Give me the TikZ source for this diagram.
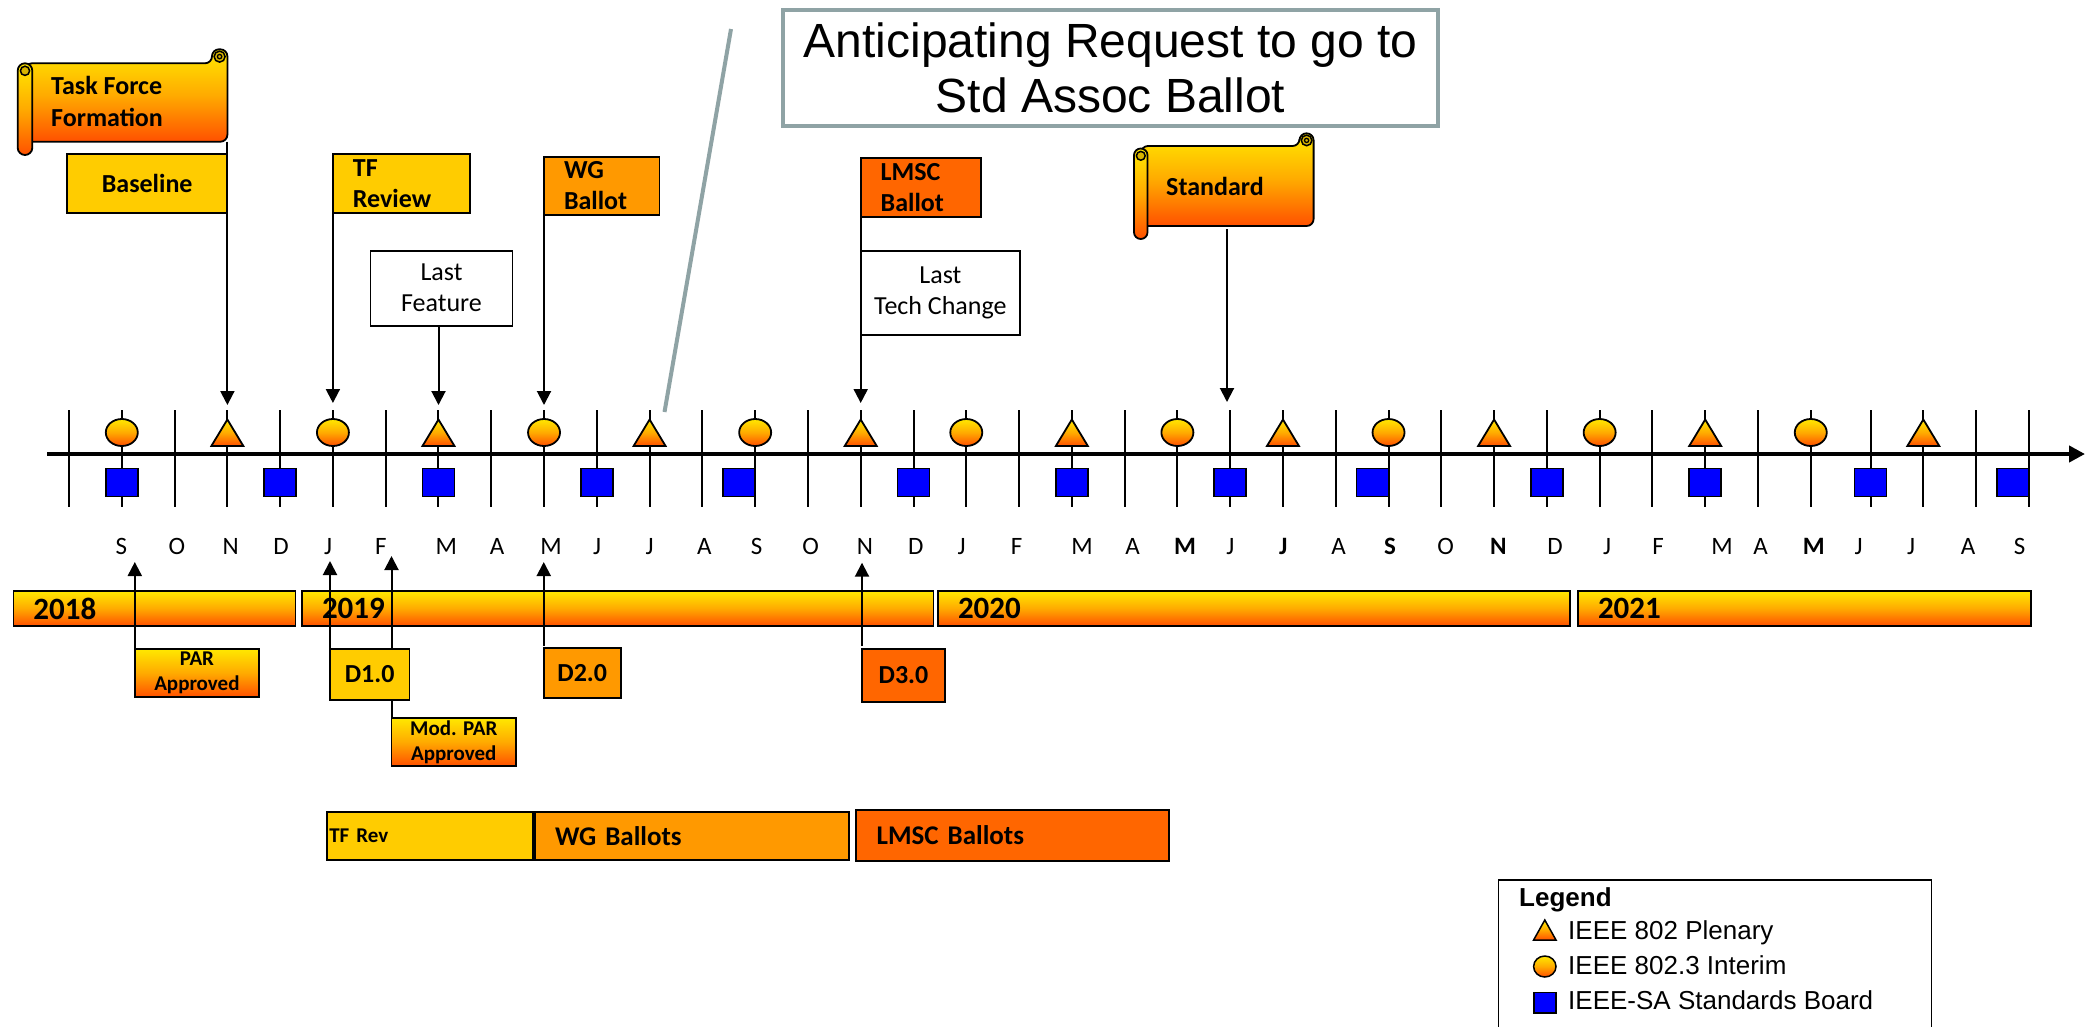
\documentclass[tikz,border=0pt]{standalone}
\usepackage{fontspec}
\setmainfont{Carlito}
\newfontfamily\arialf{Liberation Sans}
\usetikzlibrary{arrows.meta,calc}
\definecolor{cgold}{HTML}{FFCC00}
\definecolor{corng}{HTML}{FF9900}
\definecolor{cdorng}{HTML}{FF6600}
\definecolor{gtop}{HTML}{FFE800}
\definecolor{gmid}{HTML}{FFAA00}
\definecolor{gbot}{HTML}{FF5000}
\definecolor{cgrey}{HTML}{8FA3A5}
\definecolor{cblue}{HTML}{0000FF}
\definecolor{ccurl}{HTML}{D8B400}
\newcommand\flagfont{\fontsize{26}{31}\selectfont\bfseries}
\newcommand\monfont{\fontsize{25}{30}\selectfont}
\newcommand\yrfont{\fontsize{31}{36}\selectfont\bfseries}
\newcommand\smfont{\fontsize{21}{25}\selectfont\bfseries}
\newcommand\phfont{\fontsize{27}{32}\selectfont\bfseries}
\newcommand\regfont{\fontsize{26}{31}\selectfont}
\newcommand\bigfont{\arialf\fontsize{48}{55}\selectfont}
\newcommand\legfont{\arialf\fontsize{26}{31}\selectfont}
\begin{document}
\begin{tikzpicture}[x=1pt,y=-1pt,
  grad/.style={top color=gtop, bottom color=gbot, middle color=gmid},
  box/.style={draw=black, line width=1.8pt, anchor=north west, inner sep=0pt, outer sep=0pt},
  flag/.style={box, inner xsep=20pt, align=left, font=\flagfont},
  cbox/.style={box, align=center},
  arr/.style={line width=2pt, -{Triangle[length=14pt,width=14pt]}},
  mtick/.style={line width=2pt},
  outl/.style={draw=black, line width=1.8pt},
  ]
\fill[white] (0,0) rectangle (2093,1026);
\useasboundingbox (0,0) rectangle (2093,1026);

% ---------- callout ----------
\coordinate (gA) at (731,29);
\coordinate (gB) at (664.5,412);
\draw[cgrey, line width=4pt] (gA) -- (gB);
\node[draw=cgrey, line width=4pt, fill=white, anchor=north west, minimum width=655, minimum height=116, inner sep=0pt, align=center, font=\bigfont] (callout) at (781,8) {Anticipating Request to go to\\Std Assoc Ballot};

% ---------- timeline ----------
\foreach \k in {-1,...,36}{
  \pgfmathsetmacro\xx{121.8+52.78*\k+7*(\k>32)}
  \draw[mtick] (\xx,410) -- (\xx,507);
}
\coordinate (axS) at (47,454);
\coordinate (axE) at (2085,454);
\draw[line width=4.5pt, -{Triangle[length=16pt,width=16pt]}] (axS) -- (axE);

\foreach \k in {0,4,...,32}{
  \pgfmathsetmacro\xx{121.8+52.78*\k}
  \path[grad, outl] (\xx,432.5) ellipse [x radius=16, y radius=13.5];
}
\foreach \k in {2,6,...,34}{
  \pgfmathsetmacro\xx{121.8+52.78*\k+7*(\k>32)}
  \path[grad, outl] (\xx-16,446) -- (\xx,419.5) -- (\xx+16,446) -- cycle;
}
\foreach \c in {121.8,280.14,438.48,596.82,739.16,913.5,1071.84,1230.18,1372.52,1546.86,1705.2,1870.54,2012.88}{
  \path[outl, fill=cblue] (\c-16,468.5) rectangle (\c+16,496.5);
}

\foreach \x/\m [count=\i] in {121.4/S,177/O,230.8/N,281/D,328/J,380.8/F,446.4/M,497/A,551/M,597/J,649.5/J,704.3/A,756.7/S,810.7/O,865/N,915.7/D,961.7/J,1016.7/F,1082/M,1132.7/A,1185/\textbf{M},1230.3/J,1283.3/\textbf{J},1338.7/A,1390/\textbf{S},1445.7/O,1498.3/\textbf{N},1555/D,1607/J,1658/F,1722/M,1760.7/A,1813.7/\textbf{M},1858.7/J,1911/J,1968/A,2019.7/S}{
  \node[font=\monfont, anchor=base, inner sep=0pt] (mon\i) at (\x,554) {\m};
}

% ---------- year bars ----------
\node[box, grad, minimum height=35, inner xsep=20pt, text width=242, align=left, font=\yrfont] (y2018) at (13.4,591) {2018};
\node[box, grad, minimum height=35, inner xsep=20pt, text width=591.5, align=left, font=\yrfont] (y2019) at (302,591) {2019};
\node[box, grad, minimum height=35, inner xsep=20pt, text width=592, align=left, font=\yrfont] (y2020) at (938,591) {2020};
\node[box, grad, minimum height=35, inner xsep=20pt, text width=413, align=left, font=\yrfont] (y2021) at (1578,591) {2021};

% ---------- Task Force scroll ----------
\path[grad, outl, rounded corners=7pt] (25,63.3) -- (212,63.3) -- (212,49.3) -- (227.4,49.3) -- (227.4,141.7) -- (25,141.7) -- cycle;
\path[fill=ccurl, draw=black, line width=1.5pt] (219.6,56.6) circle (5.5);
\draw[line width=1.3pt] (219.6,56.6) circle (2.2);
\path[grad, outl, rounded corners=7.3pt] (17.7,63.3) rectangle (32.3,155);
\path[fill=ccurl, draw=black, line width=1.5pt] (25,70.8) circle (4.6);
\node[font={\fontsize{26}{32}\selectfont\bfseries}, align=left, anchor=west, inner sep=0pt] (tftext) at (51,101.9) {Task Force\\Formation};
\coordinate (tfpole) at (227.4,141.7);

% ---------- Standard scroll ----------
\path[grad, outl, rounded corners=7pt] (1141,146) -- (1299.5,146) -- (1299.5,133.3) -- (1313.6,133.3) -- (1313.6,226) -- (1141,226) -- cycle;
\path[fill=ccurl, draw=black, line width=1.5pt] (1306.6,140.4) circle (5.3);
\draw[line width=1.3pt] (1306.6,140.4) circle (2.1);
\path[grad, outl, rounded corners=6.7pt] (1134,148.5) rectangle (1147.5,239);
\path[fill=ccurl, draw=black, line width=1.5pt] (1140.8,155.8) circle (4.4);
\node[font=\flagfont, anchor=base west, inner sep=0pt] (stdtext) at (1166,195) {Standard};
\coordinate (stdpole) at (1227,229);

% ---------- flags ----------
\node[cbox, fill=cgold, minimum width=160.4, minimum height=59, font=\flagfont] (baseline) at (67,154) {Baseline};
\node[flag, fill=cgold, text width=97, minimum height=59] (tfrev) at (332.9,154) {TF\\Review};
\node[flag, fill=corng, text width=75.4, minimum height=58.3] (wgb) at (544,156.7) {WG\\Ballot};
\node[flag, fill=cdorng, text width=80.3, minimum height=59] (lmscb) at (860.7,158) {LMSC\\Ballot};
\node[cbox, fill=white, minimum width=142, minimum height=75, font=\regfont] (lastfeat) at (370.5,250.7) {Last\\Feature};
\node[cbox, fill=white, minimum width=159.3, minimum height=84.3, font=\regfont] (lasttech) at (860.7,250.7) {Last\\Tech Change};

\coordinate (tN18) at (227.4,405);
\coordinate (tJ19) at (332.9,403);
\coordinate (tM19) at (438.5,405);
\coordinate (tMay19) at (544,405);
\coordinate (tN19) at (860.7,403);
\coordinate (tJ20) at (1227,402);
\draw[arr] (tfpole) -- (tN18);
\draw[arr] (tfrev.north west) -- (tJ19);
\draw[arr] (lastfeat.south -| tM19) -- (tM19);
\draw[arr] (wgb.north west) -- (tMay19);
\draw[arr] (lmscb.north west) -- (tN19);
\draw[arr] (stdpole) -- (tJ20);

% ---------- lower milestones ----------
\node[cbox, grad, minimum width=124.2, minimum height=48, font=\smfont] (par) at (134.8,649) {PAR\\Approved};
\node[cbox, grad, minimum width=124.5, minimum height=48, font=\smfont] (modpar) at (391.5,718) {Mod. PAR\\Approved};
\coordinate (uS18) at (134.8,562);
\coordinate (uF19) at (391.5,556);
\draw[arr] (par.north west) -- (uS18);
\draw[arr] (modpar.north west) -- (uF19);
\node[cbox, fill=cgold, minimum width=79.4, minimum height=51, font=\flagfont] (d1) at (330,649) {D1.0};
\node[cbox, fill=corng, minimum width=77, minimum height=50, font=\flagfont] (d2) at (543.75,648) {D2.0};
\node[cbox, fill=cdorng, minimum width=83, minimum height=53, font=\flagfont] (d3) at (862,649) {D3.0};
\coordinate (uJ19) at (330,561);
\coordinate (uM19) at (543.75,562);
\coordinate (uN19) at (862,562.7);
\draw[arr] (d1.north west) -- (uJ19);
\draw[arr] ($(d2.north west)+(0,-2)$) -- (uM19);
\draw[arr] ($(d3.north west)+(0,-3)$) -- (uN19);

% ---------- phase bars ----------
\node[box, fill=cgold, minimum height=48.3, inner xsep=2.6pt, text width=201.4, align=left, font=\smfont] (tfrevbar) at (326.7,811.7) {TF Rev};
\node[box, fill=corng, minimum height=48.3, inner xsep=20pt, text width=274, align=left, font=\phfont] (wgbar) at (535,811.7) {WG Ballots};
\node[box, fill=cdorng, minimum height=51, inner xsep=21pt, text width=271.4, align=left, font=\phfont] (lmscbar) at (855.6,810) {LMSC Ballots};

% ---------- legend ----------
\node[box, minimum width=433, minimum height=160] (legend) at (1498.4,880) {};
\node[font=\legfont\bfseries, anchor=base west, inner sep=0pt] (legtitle) at (1519,906) {Legend};
\path[grad, outl, line width=1.5pt] (1533.6,940) -- (1544.8,920) -- (1556,940) -- cycle;
\path[grad, outl, line width=1.5pt] (1544.8,966.5) ellipse [x radius=11.2, y radius=10.5];
\path[outl, line width=1.5pt, fill=cblue] (1533.8,992.5) rectangle (1556,1013);
\node[font=\legfont, anchor=base west, inner sep=0pt] (legpl) at (1568,939.5) {IEEE 802 Plenary};
\node[font=\legfont, anchor=base west, inner sep=0pt] (legin) at (1568,974) {IEEE 802.3 Interim};
\node[font=\legfont, anchor=base west, inner sep=0pt] (legsb) at (1568,1009) {IEEE-SA Standards Board};
\end{tikzpicture}
\end{document}
